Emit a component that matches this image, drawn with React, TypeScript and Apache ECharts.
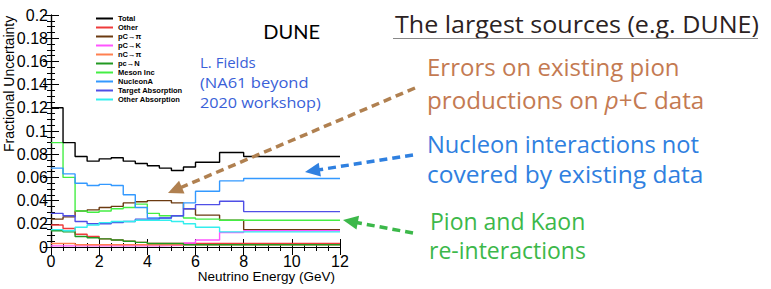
import React, { useEffect, useRef } from "react";
import * as echarts from "echarts";

const edges = [0, 0.5, 1, 1.5, 2, 2.5, 3, 3.5, 4, 4.5, 5, 5.5, 6, 7, 8, 12];
const seriesNames = ["Total", "Other", "pC→π", "pC→K", "nC→π", "pc→N", "Meson Inc", "NucleonA", "Target Absorption", "Other Absorption"];
const total = [0.12, 0.09, 0.078, 0.074, 0.076, 0.077, 0.074, 0.072, 0.07, 0.068, 0.066, 0.069, 0.073, 0.0815, 0.078];
const other = [0.019, 0.016, 0.011, 0.009, 0.007, 0.006, 0.005, 0.004, 0.003, 0.003, 0.003, 0.003, 0.003, 0.003, 0.003];
const pcPi = [0.024, 0.026, 0.031, 0.032, 0.034, 0.035, 0.038, 0.039, 0.04, 0.04, 0.038, 0.033, 0.0275, 0.023, 0.015];
const pcK = [0.001, 0.001, 0.001, 0.001, 0.001, 0.001, 0.001, 0.001, 0.001, 0.0012, 0.0015, 0.0035, 0.006, 0.0125, 0.014];
const ncPi = [0.003, 0.003, 0.002, 0.002, 0.002, 0.002, 0.002, 0.002, 0.002, 0.002, 0.002, 0.002, 0.002, 0.002, 0.002];
const pcN = [0.014, 0.013, 0.009, 0.008, 0.007, 0.006, 0.005, 0.004, 0.003, 0.003, 0.003, 0.002, 0.002, 0.002, 0.002];
const mesonInc = [0.09, 0.06, 0.031, 0.03, 0.031, 0.033, 0.034, 0.037, 0.029, 0.027, 0.027, 0.025, 0.024, 0.023, 0.023];
const nucleonA = [0.068, 0.063, 0.055, 0.053, 0.054, 0.053, 0.045, 0.034, 0.025, 0.025, 0.027, 0.038, 0.048, 0.057, 0.059];
const targetAbs = [0.029, 0.027, 0.022, 0.02, 0.02, 0.021, 0.022, 0.024, 0.024, 0.025, 0.027, 0.033, 0.0365, 0.0395, 0.0305];
const otherAbs = [0.015, 0.014, 0.017, 0.019, 0.021, 0.022, 0.022, 0.023, 0.023, 0.023, 0.022, 0.02, 0.017, 0.013, 0.013];
const allValues = [total, other, pcPi, pcK, ncPi, pcN, mesonInc, nucleonA, targetAbs, otherAbs];
const colors = ["#000000", "#ee3b3b", "#6b3a10", "#ff55ff", "#ff8050", "#229922", "#44ee44", "#3399ff", "#4f4fe6", "#33eeee"];

const rightLines = [
  { text: "Errors on existing pion", color: "#c47a52", x: 427, y: 75, sx: 1.045 },
  { text: "productions on {i|p}+C data", color: "#c47a52", x: 427, y: 108, sx: 1.05 },
  { text: "Nucleon interactions not", color: "#2f80e0", x: 427, y: 152, sx: 1.03 },
  { text: "covered by existing data", color: "#2f80e0", x: 427, y: 182, sx: 1.066 },
  { text: "Pion and Kaon", color: "#3cb84a", x: 430, y: 228, sx: 1.0 },
  { text: "re-interactions", color: "#3cb84a", x: 429, y: 257, sx: 1.0 },
];
const noteLines = [
  { text: "L. Fields", sx: 1.0 },
  { text: "(NA61 beyond", sx: 1.1 },
  { text: "2020 workshop)", sx: 1.08 },
];

function arrowHead(tip: number[], from: number[], len: number, w: number) {
  const dx = tip[0] - from[0];
  const dy = tip[1] - from[1];
  const d = Math.hypot(dx, dy);
  const ux = dx / d, uy = dy / d;
  const bx = tip[0] - ux * len, by = tip[1] - uy * len;
  return [tip, [bx - uy * w, by + ux * w], [bx + uy * w, by - ux * w]];
}

export default function App() {
  const ref = useRef<HTMLDivElement>(null);
  useEffect(() => {
    const chart = echarts.init(ref.current!, null, { renderer: "svg" });
    const font = "Liberation Sans";
    const gfont = "Open Sans";
    const series = allValues.map((vals, i) => ({
      name: seriesNames[i],
      type: "line",
      step: "end",
      symbol: "none",
      data: [...vals.map((v, j) => [edges[j], v]), [edges[edges.length - 1], vals[vals.length - 1]]],
      lineStyle: { color: colors[i], width: 1.4 },
      itemStyle: { color: colors[i] },
      z: 3 + (i === 0 ? 10 : i),
    }));
    const arrows = [
      { tip: [168, 193], from: [415, 88], color: "#b08050" },
      { tip: [305, 172], from: [413, 155], color: "#2f80e0" },
      { tip: [343, 220], from: [413, 233], color: "#3cb84a" },
    ];
    const graphics: any[] = [];
    arrows.forEach((a) => {
      const head = arrowHead(a.tip, a.from, 15, 7);
      const dx = a.tip[0] - a.from[0], dy = a.tip[1] - a.from[1];
      const d = Math.hypot(dx, dy);
      graphics.push({
        type: "line",
        shape: { x1: a.from[0], y1: a.from[1], x2: a.tip[0] - (dx / d) * 12, y2: a.tip[1] - (dy / d) * 12 },
        style: { stroke: a.color, lineWidth: 3.5, lineDash: [8, 5] },
        z: 100,
      });
      graphics.push({ type: "polygon", shape: { points: head }, style: { fill: a.color }, z: 100 });
    });
    graphics.push({
      type: "text", x: 9, y: 152, rotation: Math.PI / 2,
      style: { text: "Fractional Uncertainty", font: `14px "${font}"`, fill: "#000", textAlign: "left", textVerticalAlign: "middle" },
    });
    graphics.push({
      type: "text", x: 335, y: 276,
      style: { text: "Neutrino Energy (GeV)", font: `13.5px "${font}"`, fill: "#000", textAlign: "right", textVerticalAlign: "middle" },
    });
    graphics.push({
      type: "text", x: 320, y: 41,
      style: { text: "DUNE", font: `20px "Lato"`, fill: "#000", textAlign: "right", textVerticalAlign: "bottom" },
    });
    noteLines.forEach((t, i) => {
      graphics.push({
        type: "text", x: 200, y: 69 + i * 20.5, scaleX: t.sx,
        style: { text: t.text, font: `15px "${gfont}"`, fill: "#3a5fd8", textAlign: "left", textVerticalAlign: "bottom" },
      });
    });
    graphics.push({
      type: "text", x: 395, y: 35, scaleX: 1.09,
      style: { text: "The largest sources (e.g. DUNE)", font: `23px "${gfont}"`, fill: "#2b2222", textAlign: "left", textVerticalAlign: "bottom" },
    });
    graphics.push({
      type: "line", shape: { x1: 393, y1: 38.5, x2: 758, y2: 38.5 },
      style: { stroke: "#888", lineWidth: 1.2 },
    });
    rightLines.forEach((l) => {
      graphics.push({
        type: "text", x: l.x, y: l.y + 4, scaleX: l.sx,
        style: {
          text: l.text, font: `23px "${gfont}"`, fill: l.color, textAlign: "left", textVerticalAlign: "bottom",
          rich: { i: { fontStyle: "italic", fontSize: 23, fontFamily: gfont, fill: l.color, color: l.color } },
        },
      });
    });

    const axisCommon = {
      min: 0,
      axisLine: { show: true, lineStyle: { color: "#000", width: 1.2 } },
      axisTick: { show: true, inside: true, length: 8, lineStyle: { color: "#000" } },
      minorTick: { show: true, splitNumber: 4, length: 4, lineStyle: { color: "#000" } },
      splitLine: { show: false },
    };
    chart.setOption({
      animation: false,
      grid: { left: 51, top: 15, width: 289, height: 232, containLabel: false },
      legend: {
        orient: "vertical",
        left: 96,
        top: 14,
        itemWidth: 17,
        itemHeight: 2,
        itemGap: 0,
        icon: "rect",
        data: seriesNames,
        textStyle: { fontSize: 7.5, fontWeight: "bold", fontFamily: font, color: "#000", lineHeight: 9, padding: [0, 0, 0, 0] },
        padding: 0,
      },
      xAxis: [
        {
          ...axisCommon, type: "value", max: 12, interval: 2, position: "bottom",
          axisLabel: { fontFamily: font, fontSize: 16, color: "#000", margin: 6 },
        },
        {
          ...axisCommon, type: "value", max: 12, interval: 2, position: "top",
          axisLabel: { show: false },
        },
      ],
      yAxis: [
        {
          ...axisCommon, type: "value", max: 0.2, interval: 0.02, position: "left",
          axisLabel: {
            fontFamily: font, fontSize: 16, color: "#000", margin: 3,
            formatter: (v: number) => String(+v.toFixed(2)),
          },
        },
        {
          ...axisCommon, type: "value", max: 0.2, interval: 0.02, position: "right",
          axisLabel: { show: false },
        },
      ],
      series,
      graphic: graphics,
    });
    return () => chart.dispose();
  }, []);
  return <div ref={ref} style={{ position: "fixed", left: 0, top: 0, width: 771, height: 289, background: "#fff" }} />;
}
